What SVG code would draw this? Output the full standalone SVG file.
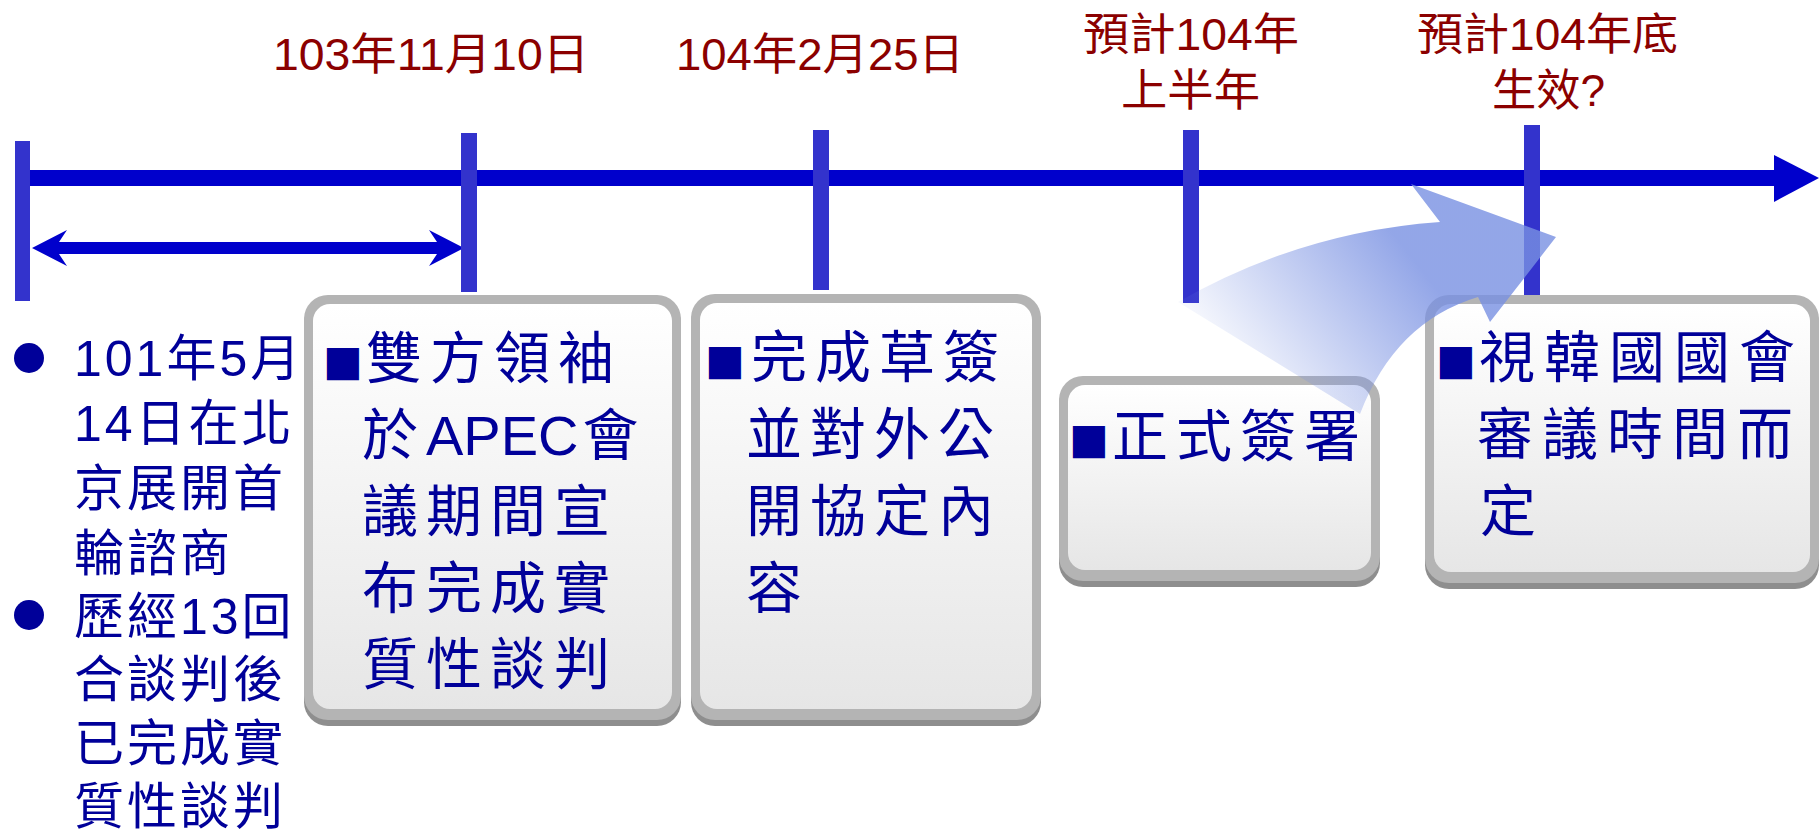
<svg xmlns="http://www.w3.org/2000/svg" width="1819" height="834" viewBox="0 0 1819 834">
<style>
.date{font-family:"Liberation Sans","Noto Sans CJK TC",sans-serif;font-size:44px;fill:#8B0000}
.body{font-family:"Liberation Sans","Noto Sans CJK TC",sans-serif;fill:#000099}
.left{font-size:50px;letter-spacing:3px}
.box{font-size:56px;letter-spacing:8px}
.lat{letter-spacing:0}
.sq{font-family:"DejaVu Sans",sans-serif;font-size:42px;letter-spacing:0}
.tick{fill:#3333CC}
.shadow{fill:#8E8E8E}
.frame{fill:#B4B4B4}
</style>
<defs>
<linearGradient id="face" x1="0" y1="0" x2="0" y2="1">
<stop offset="0" stop-color="#FFFFFF"/>
<stop offset="1" stop-color="#E6E6E6"/>
</linearGradient>
<linearGradient id="curve" gradientUnits="userSpaceOnUse" x1="1230" y1="395" x2="1410" y2="255">
<stop offset="0" stop-color="#7890E2" stop-opacity="0"/>
<stop offset="1" stop-color="#7890E2" stop-opacity="0.8"/>
</linearGradient>
</defs>

<g id="connectors">
<rect x="22" y="170" width="1754" height="16" fill="#0000CC"/>
<polygon points="1774,155 1819,178 1774,202" fill="#0000CC"/>
<path d="M32,248 L67,230 L59,242 L437,242 L429,230 L464,248 L429,266 L437,254 L59,254 L67,266 Z" fill="#0000CC"/>
<rect class="tick" x="15" y="141" width="15" height="160"/>
<rect class="tick" x="461" y="133" width="16" height="159"/>
<rect class="tick" x="813" y="130" width="16" height="160"/>
<rect class="tick" x="1183" y="130" width="16" height="173"/>
<rect class="tick" x="1524" y="125" width="16" height="173"/>
</g>

<g id="dates">
<text class="date" x="273" y="70" textLength="316" lengthAdjust="spacingAndGlyphs">103年11月10日</text>
<text class="date" x="676" y="70" textLength="288" lengthAdjust="spacingAndGlyphs">104年2月25日</text>
<text class="date" x="1083" y="50" textLength="216" lengthAdjust="spacingAndGlyphs">預計104年</text>
<text class="date" x="1121" y="106" textLength="139" lengthAdjust="spacingAndGlyphs">上半年</text>
<text class="date" x="1417" y="50" textLength="261" lengthAdjust="spacingAndGlyphs">預計104年底</text>
<text class="date" x="1492" y="106" textLength="113" lengthAdjust="spacingAndGlyphs">生效?</text>
</g>

<g id="left-notes" class="body">
<circle cx="29" cy="358" r="15" fill="#000099"/>
<circle cx="29" cy="615" r="15" fill="#000099"/>
<text class="left" x="74" y="376">101年5月</text>
<text class="left" x="74" y="441">14日在北</text>
<text class="left" x="74" y="506">京展開首</text>
<text class="left" x="74" y="571">輪諮商</text>
<text class="left" x="74" y="634">歷經13回</text>
<text class="left" x="74" y="697">合談判後</text>
<text class="left" x="74" y="761">已完成實</text>
<text class="left" x="74" y="824">質性談判</text>
</g>

<g id="box1">
<rect class="shadow" x="304" y="299" width="377" height="427" rx="24"/>
<rect class="frame" x="304" y="295" width="377" height="425" rx="24"/>
<rect x="313" y="304" width="359" height="405" rx="17" fill="url(#face)"/>
<text class="body box" x="323" y="378"><tspan class="sq" y="375">■</tspan><tspan x="366" y="378">雙方領袖</tspan></text>
<text class="body box" x="362" y="455">於<tspan class="lat">APEC</tspan><tspan dx="4">會</tspan></text>
<text class="body box" x="362" y="531">議期間宣</text>
<text class="body box" x="362" y="608">布完成實</text>
<text class="body box" x="362" y="684">質性談判</text>
</g>

<g id="box2">
<rect class="shadow" x="691" y="298" width="350" height="428" rx="24"/>
<rect class="frame" x="691" y="294" width="350" height="426" rx="24"/>
<rect x="700" y="303" width="332" height="406" rx="17" fill="url(#face)"/>
<text class="body box" x="705" y="377"><tspan class="sq" y="374">■</tspan><tspan x="751" y="377">完成草簽</tspan></text>
<text class="body box" x="746" y="454">並對外公</text>
<text class="body box" x="746" y="531">開協定內</text>
<text class="body box" x="746" y="608">容</text>
</g>

<g id="box3">
<rect class="shadow" x="1059" y="380" width="321" height="207" rx="24"/>
<rect class="frame" x="1059" y="376" width="321" height="205" rx="24"/>
<rect x="1068" y="385" width="303" height="185" rx="17" fill="url(#face)"/>
<text class="body box" x="1069" y="456"><tspan class="sq" y="453">■</tspan><tspan x="1112" y="456">正式簽署</tspan></text>
</g>

<g id="box4">
<rect class="shadow" x="1425" y="299" width="394" height="290" rx="24"/>
<rect class="frame" x="1425" y="295" width="394" height="288" rx="24"/>
<rect x="1434" y="304" width="376" height="268" rx="17" fill="url(#face)"/>
<text class="body box" x="1436" y="377" style="letter-spacing:9px"><tspan class="sq" y="374">■</tspan><tspan x="1479" y="377">視韓國國會</tspan></text>
<text class="body box" x="1477" y="454" style="letter-spacing:9px">審議時間而</text>
<text class="body box" x="1480" y="531">定</text>
</g>

<g id="curved-arrow">
<path d="M1178,302 Q1300,232 1440,222 L1411,184 L1556,237 L1490,322 L1478,297 Q1395,322 1360,414 Z" fill="url(#curve)"/>
</g>
</svg>
